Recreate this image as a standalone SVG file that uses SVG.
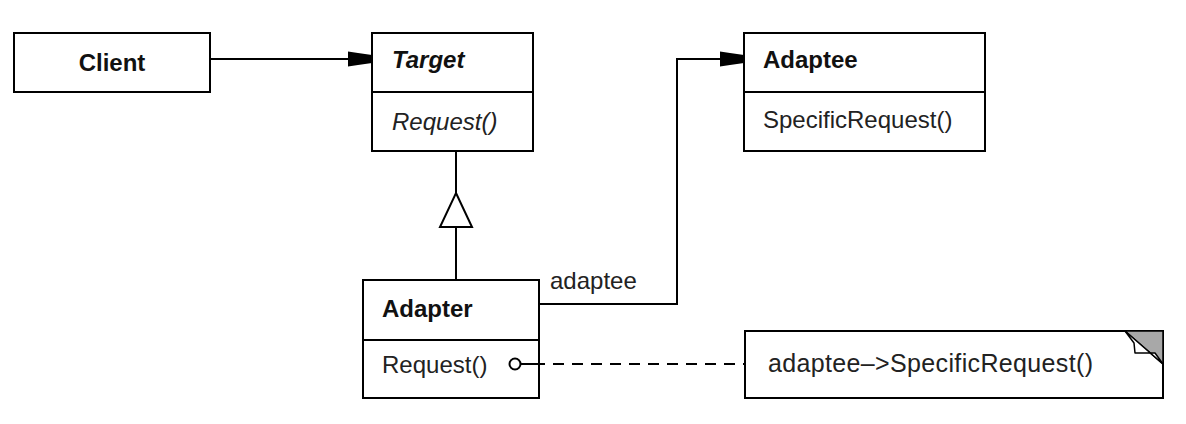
<svg xmlns="http://www.w3.org/2000/svg" width="1186" height="424" viewBox="0 0 1186 424">
<style>
.box{fill:#fff;stroke:#000;stroke-width:2}
.ln{fill:none;stroke:#000;stroke-width:2}
.t{font-family:"Liberation Sans",Arial,sans-serif;font-size:24px;fill:#222}
.b{font-weight:bold;fill:#111}
.i{font-style:italic}
</style>
<defs>
<marker id="arr" markerUnits="userSpaceOnUse" markerWidth="26" markerHeight="18" refX="24" refY="9" orient="auto">
<polygon points="0,1.5 10,3 24,5 24,13 10,15 0,16.5" fill="#000"/>
</marker>
</defs>
<rect width="1186" height="424" fill="#fff"/>
<g id="client">
<rect class="box" x="14" y="33" width="196" height="59"/>
<text class="t b" x="112" y="71" text-anchor="middle">Client</text>
</g>
<g id="target">
<rect class="box" x="372" y="33" width="161" height="118"/>
<line class="ln" x1="372" y1="92" x2="533" y2="92"/>
<text class="t b i" x="392" y="68">Target</text>
<text class="t i" x="392" y="130">Request()</text>
</g>
<g id="adaptee">
<rect class="box" x="744" y="33" width="241" height="118"/>
<line class="ln" x1="744" y1="92" x2="985" y2="92"/>
<text class="t b" x="763" y="68">Adaptee</text>
<text class="t" x="763" y="128">SpecificRequest()</text>
</g>
<g id="adapter">
<rect class="box" x="363" y="280" width="176" height="118"/>
<line class="ln" x1="363" y1="340" x2="539" y2="340"/>
<text class="t b" x="382" y="317">Adapter</text>
<text class="t" x="382" y="373">Request()</text>
</g>
<g id="note">
<rect class="box" x="745" y="331" width="418" height="67"/>
<polygon points="1125,331 1163,331 1163,364" fill="#a8a8a8" stroke="#000" stroke-width="1.5"/>
<polygon points="1125,331 1134,343 1135,353 1155,353 1163,364" fill="#fff" stroke="#000" stroke-width="1.5" stroke-linejoin="round"/>
<text class="t" x="768" y="372" style="font-size:25px" textLength="325" lengthAdjust="spacing">adaptee–&gt;SpecificRequest()</text>
</g>
<g id="connectors">
<line class="ln" x1="210" y1="59" x2="372" y2="59" marker-end="url(#arr)"/>
<polyline class="ln" points="539,304 677,304 677,59 744,59" marker-end="url(#arr)"/>
<line class="ln" x1="456" y1="151" x2="456" y2="193"/>
<polygon points="456,193 472,227 440,227" fill="#fff" stroke="#000" stroke-width="2"/>
<line class="ln" x1="456" y1="227" x2="456" y2="280"/>
<text class="t" x="550" y="289">adaptee</text>
<circle cx="515" cy="364" r="5.5" fill="#fff" stroke="#000" stroke-width="2"/>
<line class="ln" x1="520.5" y1="364" x2="545" y2="364"/>
<line class="ln" x1="545" y1="364" x2="745" y2="364" stroke-dasharray="0 8 11 0"/>
</g>
</svg>
